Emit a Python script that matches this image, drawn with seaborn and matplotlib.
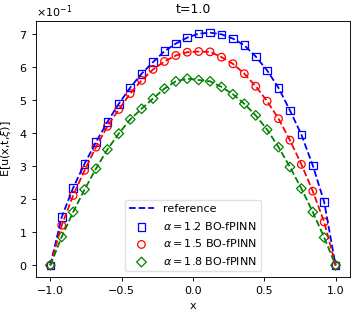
import matplotlib
matplotlib.use("Agg")
import matplotlib.pyplot as plt
import numpy as np
import pandas as pd
import seaborn as sns

# collocation points x = -1, -0.92, ..., 1 (step 0.08)
x_pts = [-1.0, -0.92, -0.84, -0.76, -0.68, -0.60, -0.52, -0.44, -0.36, -0.28, -0.20, -0.12, -0.04,
         0.04, 0.12, 0.20, 0.28, 0.36, 0.44, 0.52, 0.60, 0.68, 0.76, 0.84, 0.92, 1.0]

# values (axis shown in units of 1e-1)
u_a12 = [0.0, 1.46, 2.34, 3.07, 3.72, 4.33, 4.88, 5.37, 5.79, 6.14, 6.47, 6.70, 6.88,
         7.00, 7.03, 6.98, 6.85, 6.65, 6.31, 5.89, 5.36, 4.68, 3.95, 3.02, 1.91, 0.0]
u_a15 = [0.0, 1.21, 2.11, 2.87, 3.57, 4.20, 4.71, 5.19, 5.59, 5.92, 6.16, 6.34, 6.44,
         6.46, 6.45, 6.29, 6.09, 5.79, 5.41, 4.96, 4.43, 3.78, 3.05, 2.24, 1.31, 0.0]
u_a18 = [0.0, 0.86, 1.61, 2.29, 2.92, 3.50, 3.98, 4.41, 4.73, 5.04, 5.34, 5.56, 5.64,
         5.60, 5.56, 5.39, 5.17, 4.88, 4.53, 4.10, 3.57, 2.97, 2.32, 1.61, 0.84, 0.0]

alphas = ["1.2", "1.5", "1.8"]
colors = ["blue", "red", "green"]
markers = ["s", "o", "D"]

plt.rcParams.update({
    "font.size": 8,
    "axes.linewidth": 0.65,
    "xtick.major.width": 0.65,
    "ytick.major.width": 0.65,
    "xtick.major.size": 2.8,
    "ytick.major.size": 2.8,
    "legend.edgecolor": "0.85",
})

fig = plt.figure(figsize=(3.57, 3.14), dpi=100)
ax = fig.add_axes([0.101, 0.118, 0.879, 0.815])

handles = []
for vals, a, c, m in zip([u_a12, u_a15, u_a18], alphas, colors, markers):
    df = pd.DataFrame({"x": x_pts, "u": np.array(vals) * 0.1})
    sc = ax.scatter(df["x"], df["u"], marker=m, s=30 if m != "D" else 24,
                    facecolors="none", edgecolors=c, linewidths=0.9, zorder=2,
                    label=rf"$\alpha=${a} BO-fPINN")
    handles.append(sc)
    sns.lineplot(data=df, x="x", y="u", ax=ax, color=c, linestyle="--",
                 linewidth=1.3, zorder=3, legend=False)

ref_line = ax.lines[0]
ref_line.set_label("reference")

ax.set_title("t=1.0", fontsize=9)
ax.set_xlabel("x")
ax.set_ylabel(r"E[u(x,t,$\xi$)]")
ax.set_xticks([-1.0, -0.5, 0.0, 0.5, 1.0])
ax.ticklabel_format(axis="y", style="sci", scilimits=(-1, -1), useMathText=True)

ax.legend(handles=[ref_line] + handles, loc="lower center",
          bbox_to_anchor=(0.5, 0.0), fontsize=8, handlelength=2.2)

fig.savefig("out.png", dpi=100)
